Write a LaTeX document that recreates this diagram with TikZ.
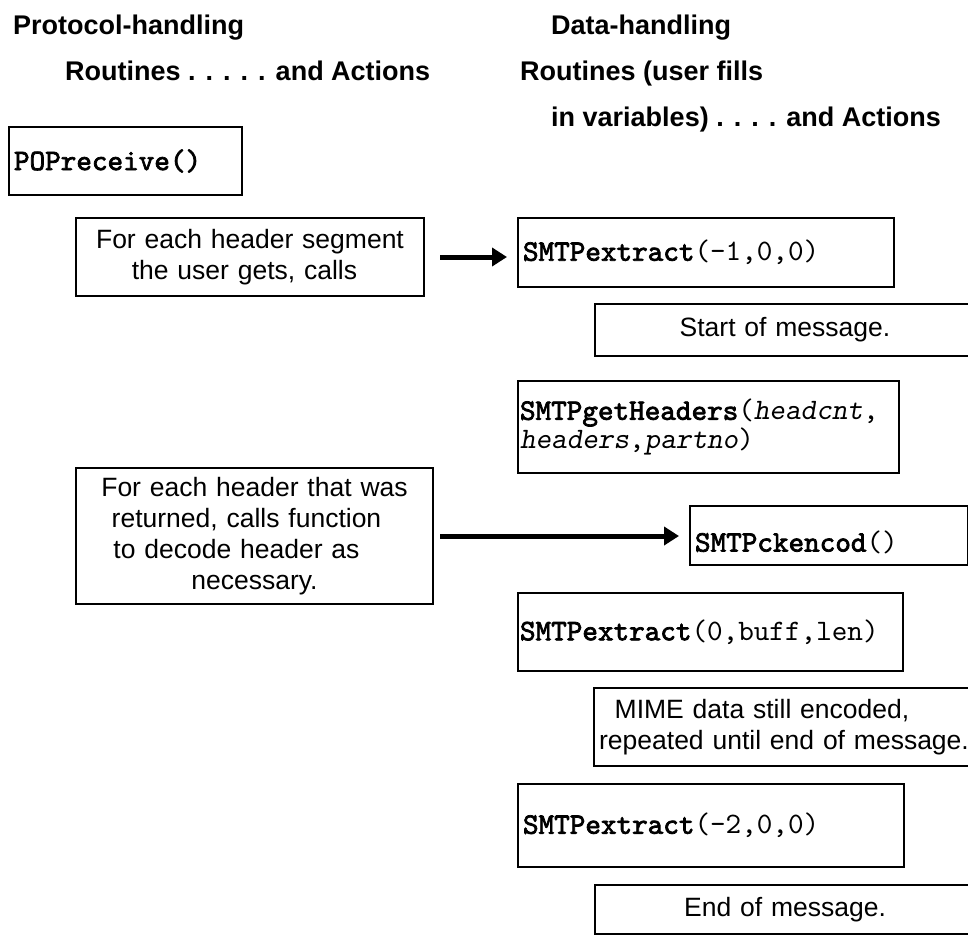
\documentclass[tikz,border=0pt]{standalone}
\usepackage{fontspec}
\setmainfont{Liberation Sans}
\setmonofont{lmmono10-regular.otf}[BoldFont=lmmono10-regular.otf, BoldFeatures={FakeBold=2.5}, ItalicFont=lmmonoslant10-regular.otf]
\usetikzlibrary{arrows.meta}

\newcommand{\headfont}{\fontsize{27pt}{31pt}\selectfont\bfseries}
\newcommand{\notefont}{\fontsize{26.5pt}{31pt}\selectfont}
\newcommand{\codefont}{\fontsize{29.7pt}{26pt}\selectfont\ttfamily}

\begin{document}
\begin{tikzpicture}[x=1pt, y=-1pt,
    head/.style={font=\headfont, anchor=base west, inner sep=0pt},
    box/.style={draw, line width=2pt, anchor=north west, inner ysep=0pt},
    codebox/.style={box, font=\codefont, align=left, inner xsep=5pt},
    notebox/.style={box, font=\notefont, align=center, inner xsep=0pt},
    arr/.style={line width=5pt, -{Triangle[length=15pt, width=18pt]}, shorten >=10pt}]
      \useasboundingbox (0,0) rectangle (968,934);
      \clip (0,0) rectangle (968,934);

      \node[head] (lefthead1) at (13,35) {Protocol-handling};
      \node[head] (lefthead2) at (65,80) {Routines . . . . . and Actions};
      \node[head] (righthead1) at (551,35) {Data-handling};
      \node[head] (righthead2) at (520,80) {Routines (user fills};
      \node[head] (righthead3) at (551,126) {in variables) . . . . and Actions};

      \node[codebox, text width=223pt, minimum height=68pt] (pop) at (8,126) {\textbf{POPreceive()}};
      \node[notebox, text width=348pt, minimum height=78pt] (seg) at (75,217) {For each header segment\\the user gets, calls\rule{11pt}{0pt}};
      \node[codebox, text width=366pt, minimum height=69pt] (ext1) at (517,217) {\textbf{SMTPextract}(-1,0,0)};
      \node[notebox, text width=380pt, minimum height=52pt] (start) at (594,303) {Start of message.};
      \node[codebox, inner xsep=2pt, text width=377pt, minimum height=92pt] (geth) at (517,380) {\textbf{SMTPgetHeaders}(\textit{headcnt},\\\textit{headers},\textit{partno})};
      \node[notebox, text width=357pt, minimum height=136pt] (each) at (75,467) {For each header that was\\returned, calls function\rule{16pt}{0pt}\\to decode header as\rule{36pt}{0pt}\\necessary.};
      \node[codebox, text width=268pt, minimum height=59pt] (ckencod) at (689,505) {\raisebox{-7pt}[\height][\depth]{\textbf{SMTPckencod}()}};
      \node[codebox, inner xsep=2pt, text width=381pt, minimum height=78pt] (ext2) at (517,592) {\textbf{SMTPextract}(0,buff,len)};
      \node[notebox, text width=380pt, minimum height=78pt] (mime) at (593,687) {MIME data still encoded,\rule{44pt}{0pt}\\repeated until end of message.};
      \node[codebox, text width=376pt, minimum height=83pt] (ext3) at (517,783) {\textbf{SMTPextract}(-2,0,0)};
      \node[notebox, text width=380pt, minimum height=49pt] (end) at (594,884) {End of message.};

      \draw[arr, shorten <=15pt] (seg.east) -- (seg.east -| ext1.west);
      \draw[arr, shorten <=6pt] (each.east) -- (each.east -| ckencod.west);
\end{tikzpicture}
\end{document}
